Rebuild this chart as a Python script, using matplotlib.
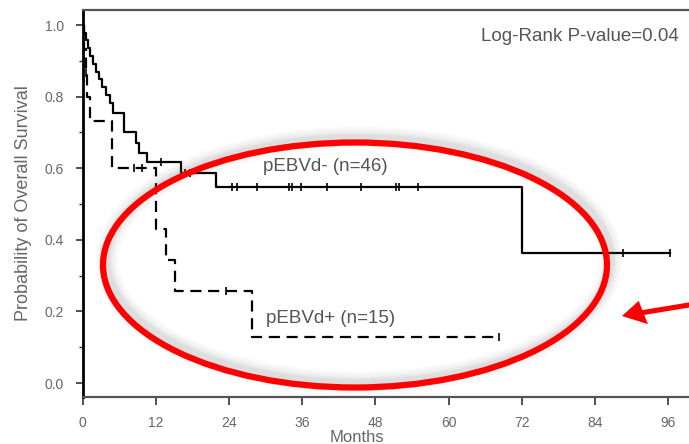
import matplotlib
matplotlib.use("Agg")
import matplotlib.pyplot as plt
from matplotlib.patches import Ellipse, FancyArrow
import numpy as np

plt.rcParams['font.family'] = ['Liberation Sans', 'DejaVu Sans']

# pEBVd- (n=46): step times (months) and survival after each step
neg_times = [0, 0.3, 0.6, 0.9, 1.3, 1.7, 2.2, 2.7, 3.2, 3.8, 4.5, 5.0, 6.8, 8.8, 9.3, 10.5, 16.2, 21.9, 72.0, 96.2]
neg_surv = [1.0, 0.978, 0.957, 0.935, 0.913, 0.891, 0.870, 0.848, 0.826, 0.804, 0.783, 0.754, 0.700, 0.670, 0.642, 0.618, 0.587, 0.548, 0.363, 0.363]
neg_cens = [12.9, 16.8, 17.6, 24.5, 25.3, 28.6, 33.9, 34.4, 35.8, 40.0, 45.6, 51.3, 51.8, 54.9, 88.6, 96.2]

# pEBVd+ (n=15)
pos_times = [0, 0.2, 0.5, 0.8, 1.2, 4.8, 12.0, 13.7, 15.1, 27.8, 68.2]
pos_surv = [1.0, 0.933, 0.867, 0.800, 0.733, 0.600, 0.429, 0.343, 0.257, 0.129, 0.129]
pos_cens = [0.3, 0.6, 8.5, 9.8, 23.5, 68.2]

xticks = [0, 12, 24, 36, 48, 60, 72, 84, 96]
yticks = [0.0, 0.2, 0.4, 0.6, 0.8, 1.0]

W, H = 689, 444
fig = plt.figure(figsize=(W / 100, H / 100), dpi=100)
ax = fig.add_axes([82.5 / W, 1 - 397 / H, 610.4 / W, 387 / H])
ax.set_xlim(0, 100)
ax.set_ylim(-0.039, 1.042)


def surv_at(times, surv, t):
    i = np.searchsorted(times, t, side='right') - 1
    return surv[i]


ax.step(neg_times, neg_surv, where='post', color='black', lw=1.6, zorder=3)
ax.step(pos_times, pos_surv, where='post', color='black', lw=1.6,
        dashes=(5, 3), zorder=3)
ax.plot(neg_cens, [surv_at(neg_times, neg_surv, t) for t in neg_cens], '|',
        color='black', ms=6, mew=1.2, zorder=3)
ax.plot(pos_cens, [surv_at(pos_times, pos_surv, t) for t in pos_cens], '|',
        color='black', ms=6, mew=1.2, zorder=3)

ax.set_xticks(xticks)
ax.set_yticks(yticks)
ax.set_yticks(np.arange(0.1, 1.0, 0.2), minor=True)
ax.set_yticklabels([f"{v:.1f}" for v in yticks])
ax.tick_params(axis='both', which='major', direction='out', width=1.2,
               colors='#333333', labelcolor='#666666', labelsize=10)
ax.tick_params(axis='x', which='major', length=6, pad=7.5)
ax.tick_params(axis='y', which='major', length=5, pad=8.5)
ax.tick_params(axis='y', which='minor', direction='out', length=3, width=1, colors='#333333')
ax.spines['right'].set_visible(False)
ax.spines['left'].set_linewidth(2)
ax.spines['left'].set_color('black')
for s in ('top', 'bottom'):
    ax.spines[s].set_linewidth(1.6)
    ax.spines[s].set_color('#555555')

ax.set_xlabel('Months', fontsize=12, color='#666666')
ax.xaxis.set_label_coords((357 - 82.5) / 610.4, (397 - 430) / 387)
ax.set_ylabel('Probability of Overall Survival', fontsize=13, color='#666666', labelpad=9)

ax.text(29.6, 0.606, 'pEBVd- (n=46)', fontsize=13.5, color='#555555', va='center')
ax.text(30.1, 0.18, 'pEBVd+ (n=15)', fontsize=13.5, color='#555555', va='center')
fig.text(481 / W, 1 - 36 / H, 'Log-Rank P-value=0.04', fontsize=13.5, color='#555555', va='center')

# red annotation ellipse with a soft grey shadow
cx, cy, ew, eh = 355 / W, 1 - 265 / H, 504 / W, 245 / H
sx, sy = cx + 4 / W, cy + 5 / H
for lw, a in [(16, 0.04), (12, 0.05), (8, 0.07), (5, 0.09)]:
    fig.add_artist(Ellipse((sx, sy), ew, eh, transform=fig.transFigure, fill=False,
                           edgecolor='#777777', lw=lw, alpha=a))
fig.add_artist(Ellipse((cx, cy), ew, eh, transform=fig.transFigure, fill=False,
                       edgecolor='#ff0000', lw=4.5))

# red arrow pointing left
fig.add_artist(FancyArrow(695 / W, 1 - 304 / H, -73 / W, -12 / H, width=5 / H,
                          head_width=24 / H, head_length=22 / W,
                          length_includes_head=True, transform=fig.transFigure,
                          color='#ff0000', lw=0))

fig.savefig('out.png', dpi=100)
